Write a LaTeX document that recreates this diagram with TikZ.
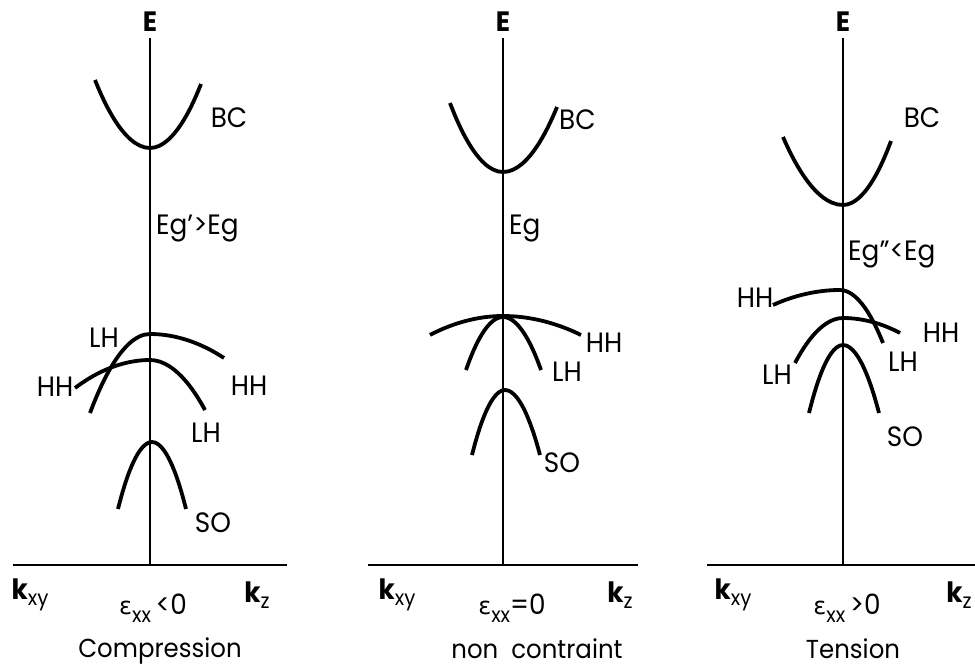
\documentclass[tikz,border=0pt]{standalone}
\usepackage{fontspec}
\setmainfont{Poppins}[FakeStretch=0.94]
\newfontfamily\grk{DejaVu Sans}
\begin{document}
\begin{tikzpicture}[x=1pt,y=-1pt,
  axis/.style={line width=1.8pt},
  band/.style={line width=3.8pt},
  lbl/.style={font=\fontsize{28}{32}\selectfont, inner sep=0pt},
  elbl/.style={font=\fontsize{28}{30}\selectfont\bfseries, inner sep=0pt},
  klbl/.style={font=\fontsize{28}{32}\selectfont, inner sep=0pt},
  caplbl/.style={font=\fontsize{26}{30}\selectfont, inner sep=0pt},
]
\newcommand{\kk}[1]{\textbf{k}\raisebox{-0.22em}{\fontsize{21}{24}\selectfont #1}}
\newcommand{\eps}[1]{{\grk\fontsize{24}{28}\selectfont ε}\raisebox{-0.3em}{\fontsize{21}{24}\selectfont xx}#1}
\useasboundingbox (0,0) rectangle (975,669);
\fill[white] (0,0) rectangle (975,669);

% ---------- Panel 1: Compression ----------
\coordinate (a1t) at (150,38);
\coordinate (a1b) at (150,565);
\coordinate (h1l) at (13,565);
\coordinate (h1r) at (287,565);
\draw[axis] (a1t) -- (a1b);
\draw[axis] (h1l) -- (h1r);
\node[elbl] (E1) at (150,22) {E};
\draw[band] (95,80) parabola bend (150,148) (201,84);
\node[lbl] (BC1) at (229,118) {BC};
\node[lbl,anchor=west] (Eg1) at (156,229) {Eg'>Eg};
\draw[band] (90,413) parabola bend (150,334) (224,358);
\draw[band] (75,388) parabola bend (150,360) (205,410);
\draw[band] (118,509) parabola bend (152,442) (186,509);
\node[lbl] (LH1a) at (104,338) {LH};
\node[lbl] (HH1a) at (55,387) {HH};
\node[lbl] (HH1b) at (249,386) {HH};
\node[lbl] (LH1b) at (206,433) {LH};
\node[lbl] (SO1) at (213,523) {SO};
\node[klbl] (kxy1) at (30,595) {\kk{xy}};
\node[klbl] (kz1) at (257,595) {\kk{z}};
\node[klbl] (eps1) at (153,608) {\eps{\,<0}};
\node[caplbl] (cap1) at (160,651) {Compression};

% ---------- Panel 2: non contraint ----------
\coordinate (a2t) at (503,38);
\coordinate (a2b) at (503,565);
\coordinate (h2l) at (368,565);
\coordinate (h2r) at (638,565);
\draw[axis] (a2t) -- (a2b);
\draw[axis] (h2l) -- (h2r);
\node[elbl] (E2) at (503,22) {E};
\draw[band] (450,103) parabola bend (503,172) (557,107);
\node[lbl,anchor=west] (BC2) at (559,120) {BC};
\node[lbl,anchor=west] (Eg2) at (509,229) {Eg};
\draw[band] (430,335) parabola bend (503,316) (581,335);
\draw[band] (466,370) parabola bend (503,317) (541,370);
\draw[band] (472,455) parabola bend (505,390) (540,455);
\node[lbl] (HH2) at (604,343) {HH};
\node[lbl] (LH2) at (567,372) {LH};
\node[lbl] (SO2) at (562,463) {SO};
\node[klbl] (kxy2) at (397,595) {\kk{xy}};
\node[klbl] (kz2) at (620,595) {\kk{z}};
\node[klbl] (eps2) at (512,608) {\eps{=0}};
\node[caplbl] (cap2) at (537,649) {non\ \ contraint};

% ---------- Panel 3: Tension ----------
\coordinate (a3t) at (843,38);
\coordinate (a3b) at (843,565);
\coordinate (h3l) at (707,565);
\coordinate (h3r) at (975,565);
\draw[axis] (a3t) -- (a3b);
\draw[axis] (h3l) -- (h3r);
\node[elbl] (E3) at (843,22) {E};
\draw[band] (783,137) parabola bend (843,205) (891,141);
\node[lbl] (BC3) at (922,118) {BC};
\node[lbl,anchor=west] (Eg3) at (848,255) {Eg"<Eg};
\draw[band] (773,305) parabola bend (840,290) (883,343);
\draw[band] (795,363) parabola bend (843,318) (900,333);
\draw[band] (809,413) parabola bend (843,345) (879,413);
\node[lbl] (HH3a) at (755,298) {HH};
\node[lbl] (HH3b) at (941,333) {HH};
\node[lbl] (LH3a) at (777,375) {LH};
\node[lbl] (LH3b) at (903,362) {LH};
\node[lbl] (SO3) at (905,437) {SO};
\node[klbl] (kxy3) at (733,595) {\kk{xy}};
\node[klbl] (kz3) at (959,595) {\kk{z}};
\node[klbl] (eps3) at (847,608) {\eps{\,>0}};
\node[caplbl] (cap3) at (853,649) {Tension};
\end{tikzpicture}
\end{document}
